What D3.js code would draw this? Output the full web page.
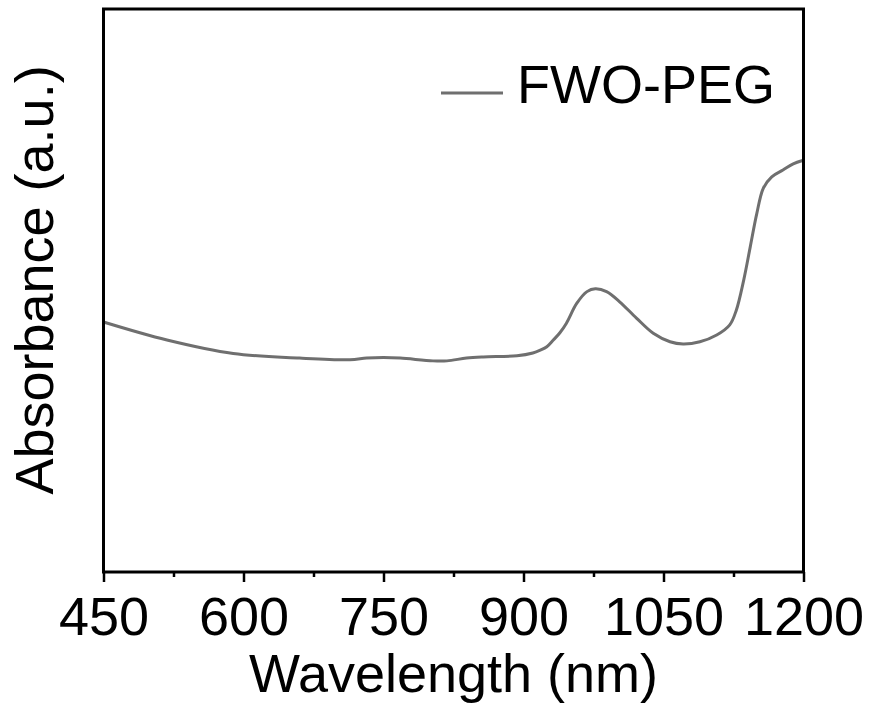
<!DOCTYPE html>
<html>
<head>
<meta charset="utf-8">
<script src="https://cdn.jsdelivr.net/npm/d3@7"></script>
<style>
  html, body { margin: 0; padding: 0; background: #fff; }
  svg { display: block; }
  text { font-family: "Liberation Sans", Arial, Helvetica, sans-serif; fill: #000; }
</style>
</head>
<body>
<svg id="chart" width="873" height="713"></svg>
<script>
// Absorption spectrum of FWO-PEG (arbitrary absorbance units)
const wavelength = [450, 518, 589, 660, 714, 732, 750, 768, 803, 818, 839, 857, 893, 910, 918, 925, 932, 939, 946, 957, 968, 977, 989, 1003, 1021, 1039, 1057, 1071, 1089, 1107, 1121, 1128, 1136, 1143, 1150, 1157, 1166, 1178, 1189, 1199];
const absorbance = [0.444, 0.412, 0.388, 0.380, 0.377, 0.380, 0.381, 0.380, 0.375, 0.375, 0.380, 0.382, 0.384, 0.389, 0.394, 0.400, 0.412, 0.425, 0.442, 0.477, 0.498, 0.503, 0.498, 0.480, 0.451, 0.424, 0.409, 0.405, 0.409, 0.421, 0.439, 0.465, 0.519, 0.578, 0.637, 0.682, 0.702, 0.714, 0.725, 0.731];
const seriesName = "FWO-PEG";
const majorTicks = [450, 600, 750, 900, 1050, 1200];
const minorTicks = [525, 675, 825, 975, 1125];
const xTitle = "Wavelength (nm)";
const yTitle = "Absorbance (a.u.)";

const margin = { left: 103.5, right: 69.5, top: 9, bottom: 141 };
const W = 873, H = 713;
const innerW = W - margin.left - margin.right;
const innerH = H - margin.top - margin.bottom;

const svg = d3.select("#chart");
const g = svg.append("g").attr("transform", `translate(${margin.left},${margin.top})`);

const x = d3.scaleLinear().domain([450, 1200]).range([0, innerW]);
const y = d3.scaleLinear().domain([0, 1]).range([innerH, 0]);

const lineColor = "#6f6f6f";
const fontSize = 54;

// spectrum curve
const data = wavelength.map((w, i) => ({ w, a: absorbance[i] }));
const line = d3.line()
  .x(d => x(d.w))
  .y(d => y(d.a))
  .curve(d3.curveCatmullRom.alpha(0.5));

g.append("path")
  .datum(data)
  .attr("d", line)
  .attr("fill", "none")
  .attr("stroke", lineColor)
  .attr("stroke-width", 3)
  .attr("stroke-linejoin", "round");

// bottom axis: major and minor ticks
const majorAxis = d3.axisBottom(x).tickValues(majorTicks).tickSize(10).tickFormat(d3.format("d"));
const minorAxis = d3.axisBottom(x).tickValues(minorTicks).tickSize(5).tickFormat("");

const gMajor = g.append("g").attr("transform", `translate(0,${innerH})`).call(majorAxis);
const gMinor = g.append("g").attr("transform", `translate(0,${innerH})`).call(minorAxis);
[gMajor, gMinor].forEach(ax => {
  ax.select(".domain").remove();
  ax.selectAll(".tick line").attr("stroke", "#000").attr("stroke-width", 2.5);
});
gMajor.selectAll(".tick text")
  .attr("y", 63)
  .attr("dy", 0)
  .style("font-size", fontSize + "px")
  .style("font-family", '"Liberation Sans", Arial, sans-serif')
  .attr("fill", "#000");

// frame
g.append("rect")
  .attr("x", 0).attr("y", 0)
  .attr("width", innerW).attr("height", innerH)
  .attr("fill", "none")
  .attr("stroke", "#000")
  .attr("stroke-width", 3);

// axis titles
svg.append("text")
  .attr("x", margin.left + innerW / 2)
  .attr("y", 692)
  .attr("text-anchor", "middle")
  .style("font-size", fontSize + "px")
  .text(xTitle);

svg.append("text")
  .attr("transform", "translate(53,280) rotate(-90)")
  .attr("text-anchor", "middle")
  .style("font-size", fontSize + "px")
  .text(yTitle);

// legend
const legend = svg.append("g");
legend.append("line")
  .attr("x1", 441).attr("x2", 503)
  .attr("y1", 93).attr("y2", 93)
  .attr("stroke", lineColor)
  .attr("stroke-width", 3);
legend.append("text")
  .attr("x", 517)
  .attr("y", 103)
  .style("font-size", fontSize + "px")
  .text(seriesName);
</script>
</body>
</html>
